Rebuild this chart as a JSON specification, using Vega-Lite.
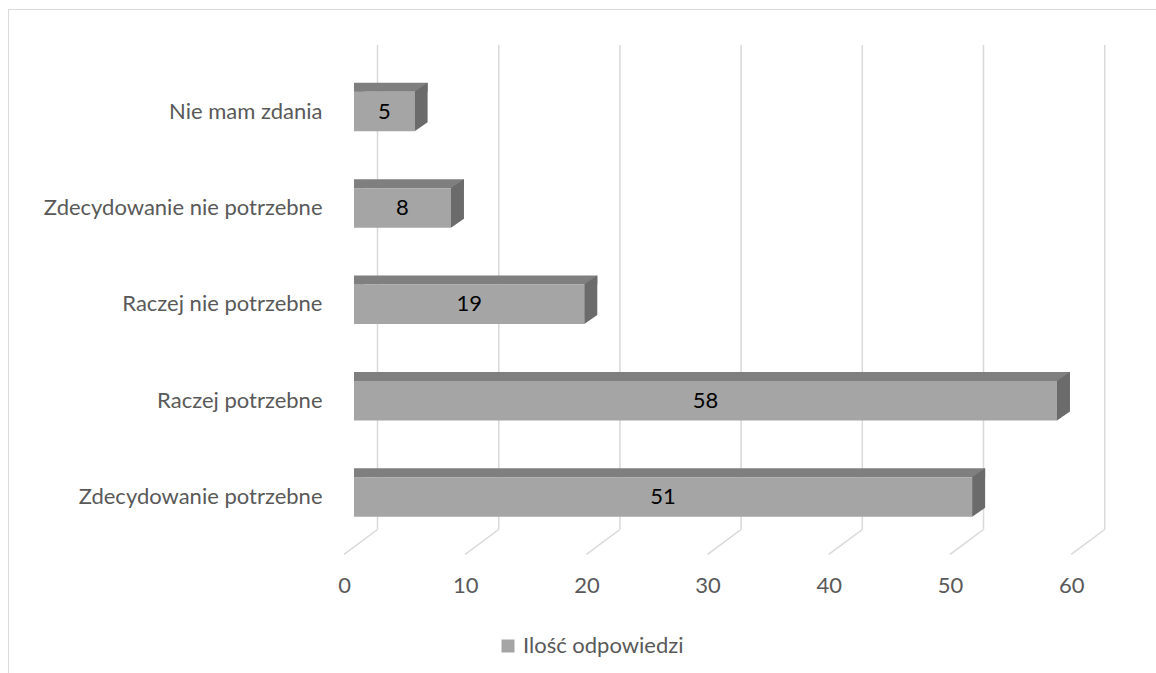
{
  "$schema": "https://vega.github.io/schema/vega-lite/v6.json",
  "width": 1148,
  "height": 664,
  "autosize": {"type": "none"},
  "padding": {"left": 8, "top": 9, "right": 0, "bottom": 0},
  "background": "white",
  "config": {"view": {"stroke": "#d9d9d9", "strokeWidth": 1}, "font": "Lato"},
  "datasets": {
    "answers": [
      {"category": "Nie mam zdania", "value": 5},
      {"category": "Zdecydowanie nie potrzebne\u00a0", "value": 8},
      {"category": "Raczej nie potrzebne", "value": 19},
      {"category": "Raczej potrzebne", "value": 58},
      {"category": "Zdecydowanie potrzebne", "value": 51}
    ],
    "ticks": [{"t": 0}, {"t": 10}, {"t": 20}, {"t": 30}, {"t": 40}, {"t": 50}, {"t": 60}]
  },
  "layer": [
    {
      "layer": [
        {
          "data": {"name": "ticks"},
          "mark": {"type": "rule", "color": "#d9d9d9", "strokeWidth": 1.5, "xOffset": 23.5, "yOffset": -66.5, "y2Offset": 32.4},
          "encoding": {
            "x": {"field": "t", "type": "quantitative",
              "scale": {"domain": [-28.548, 66.171], "nice": false, "zero": false},
              "axis": {"title": null, "values": [0, 10, 20, 30, 40, 50, 60], "offset": -116, "domain": false, "ticks": false, "tickSize": 0, "labelPadding": 18, "labelOffset": -10, "labelFont": "Lato", "labelFontSize": 22, "labelColor": "#595959", "grid": false, "labelFlush": false, "labelOverlap": false, "format": "d"}},
            "y": {"datum": "Nie mam zdania", "type": "nominal",
              "scale": {"domain": ["Nie mam zdania", "Zdecydowanie nie potrzebne\u00a0", "Raczej nie potrzebne", "Raczej potrzebne", "Zdecydowanie potrzebne"], "range": [54.3, 536.3], "paddingInner": 0, "paddingOuter": 0},
              "axis": {"title": null, "offset": -346, "domain": false, "ticks": false, "tickSize": 0, "labelPadding": 32, "labelFont": "Lato", "labelFontSize": 22, "labelColor": "#595959", "labelLimit": 400, "grid": false}},
            "y2": {"datum": "Zdecydowanie potrzebne"}
          }
        },
        {
          "data": {"name": "ticks"},
          "mark": {"type": "rule", "color": "#d9d9d9", "strokeWidth": 1.5, "xOffset": 23.5, "x2Offset": -10, "yOffset": 32.4, "y2Offset": 57.2},
          "encoding": {
            "x": {"field": "t", "type": "quantitative"},
            "x2": {"field": "t"},
            "y": {"datum": "Zdecydowanie potrzebne", "type": "nominal"},
            "y2": {"datum": "Zdecydowanie potrzebne"}
          }
        },
        {
          "data": {"name": "answers"},
          "mark": {"type": "bar", "color": "#7f7f7f", "height": 9, "xOffset": 13, "x2Offset": 10, "yOffset": -24.25},
          "encoding": {
            "x": {"field": "value", "type": "quantitative", "stack": null},
            "y": {"field": "category", "type": "nominal"}
          }
        },
        {
          "data": {"name": "answers"},
          "mark": {"type": "point", "shape": "M0,-19.75L10,-28.75L10,-19.75Z", "size": 4, "filled": true, "opacity": 1, "color": "#7f7f7f", "strokeWidth": 0},
          "encoding": {
            "x": {"datum": 0, "type": "quantitative"},
            "y": {"field": "category", "type": "nominal"}
          }
        },
        {
          "data": {"name": "answers"},
          "mark": {"type": "bar", "height": 39.5},
          "encoding": {
            "x": {"field": "value", "type": "quantitative", "stack": null},
            "y": {"field": "category", "type": "nominal"},
            "color": {"datum": "Ilość odpowiedzi", "type": "nominal",
              "scale": {"range": ["#a5a5a5"]},
              "legend": {"title": null, "orient": "none", "legendX": 489, "legendY": 626, "symbolType": "square", "symbolSize": 169, "symbolStrokeWidth": 0, "symbolOpacity": 1, "labelFont": "Lato", "labelFontSize": 22, "labelColor": "#595959", "labelLimit": 400, "padding": 0, "labelOffset": 4}}
          }
        },
        {
          "data": {"name": "answers"},
          "mark": {"type": "point", "shape": "M0,-19.75L13,-28.75L13,10.75L0,19.75Z", "size": 4, "filled": true, "opacity": 1, "color": "#6b6b6b", "strokeWidth": 0},
          "encoding": {
            "x": {"field": "value", "type": "quantitative"},
            "y": {"field": "category", "type": "nominal"}
          }
        }
      ]
    },
    {
      "data": {"name": "answers"},
      "mark": {"type": "text", "font": "Lato", "fontSize": 22, "color": "#000000", "align": "center", "baseline": "middle"},
      "encoding": {
        "x": {"field": "value", "type": "quantitative", "scale": {"domain": [-57.096, 132.342], "nice": false, "zero": false}, "axis": null},
        "y": {"field": "category", "type": "nominal"},
        "text": {"field": "value", "type": "quantitative"}
      }
    }
  ],
  "resolve": {"scale": {"x": "independent"}}
}
